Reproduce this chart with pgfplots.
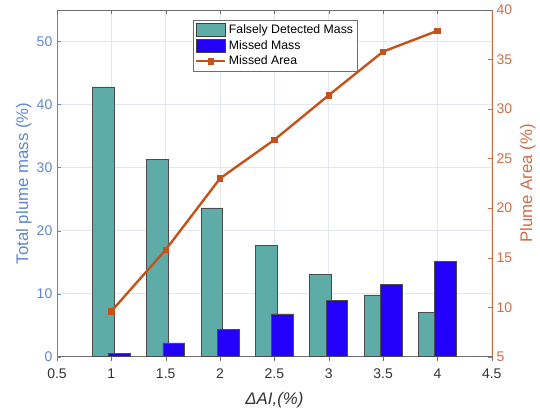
\documentclass[border=0pt]{standalone}
\usepackage{pgfplots}
\pgfplotsset{compat=1.18}
\usepackage{fontspec}
\setmainfont{Liberation Sans}
\usetikzlibrary{calc}

\definecolor{tealbar}{RGB}{94,172,168}
\definecolor{bluebar}{RGB}{35,0,250}
\definecolor{arealine}{RGB}{196,82,28}
\definecolor{leftax}{RGB}{95,135,205}
\definecolor{rightax}{RGB}{205,110,70}
\definecolor{gridc}{RGB}{226,231,240}
\definecolor{boxc}{RGB}{110,110,110}

\begin{document}
\begin{tikzpicture}
\pgfplotsset{
  every axis/.append style={
    scale only axis, width=326pt, height=260pt,
    xmin=0.5, xmax=4.5,
    xtick={0.5,1,...,4.5},
    tick align=inside,
    /pgf/number format/assume math mode=true,
    tick label style={font=\fontsize{10.5}{12}\selectfont},
    label style={font=\fontsize{12.6}{14}\selectfont},
    major tick length=3pt,
  },
}
% bars: mass percentages on the left axis
\begin{axis}[
  name=ax,
  ymin=0, ymax=55,
  ytick={0,10,...,50},
  axis x line*=bottom,
  axis y line*=left,
  x axis line style={boxc, -},
  y axis line style={leftax, -},
  y tick style={leftax},
  x tick style={boxc},
  yticklabel style={text=leftax},
  xticklabel style={text=black!80, yshift=-2.5pt},
  ylabel={Total plume mass (\%)},
  ylabel style={text=leftax, yshift=-3pt},
  xlabel={\textit{ΔAI,(\%)}},
  xlabel style={text=black!80, yshift=-3pt},
  grid=major,
  major grid style={gridc, line width=0.6pt},
  ybar, bar width=0.2,
  legend style={
    at={(0.313,0.971)}, anchor=north west,
    font=\fontsize{9.2}{11}\selectfont,
    draw=boxc, line width=0.5pt,
    inner sep=1.2pt, row sep=-0.5pt,
    cells={anchor=west},
  },
  legend image code/.code={
    \draw[#1, draw=black!75, line width=0.5pt] (0cm,-0.17cm) rectangle (0.76cm,0.17cm);
  },
]
\addplot[fill=tealbar, draw=black!70, line width=0.5pt, bar shift=-0.075]
  coordinates {(1,42.8) (1.5,31.3) (2,23.6) (2.5,17.7) (3,13.0) (3.5,9.8) (4,7.0)};
\addlegendentry{Falsely Detected Mass}
\addplot[fill=bluebar, draw=black!70, line width=0.5pt, bar shift=0.075]
  coordinates {(1,0.5) (1.5,2.2) (2,4.3) (2.5,6.8) (3,9.0) (3.5,11.5) (4,15.1)};
\addlegendentry{Missed Mass}
\addlegendimage{legend image code/.code={
  \draw[arealine, line width=1.8pt] (0cm,0cm) -- (0.76cm,0cm);
  \fill[arealine] (0.31cm,-0.07cm) rectangle (0.45cm,0.07cm);
}}
\addlegendentry{Missed Area}
\end{axis}

% line: missed area on the right axis
\begin{axis}[
  ymin=5, ymax=40,
  ytick={5,10,...,40},
  axis x line*=top,
  axis y line*=right,
  xticklabels={},
  x axis line style={boxc, -},
  x tick style={boxc},
  y axis line style={rightax, -},
  y tick style={rightax},
  yticklabel style={text=rightax},
  ylabel={Plume Area (\%)},
  ylabel style={text=rightax, yshift=1pt},
]
\addplot[arealine, line width=1.8pt, mark=square*,
  mark size=2pt, mark options={fill=arealine, draw=arealine, line width=0.5pt}]
  coordinates {(1,9.6) (1.5,15.8) (2,23.0) (2.5,26.9) (3,31.4) (3.5,35.8) (4,37.9)};
\end{axis}

\path[use as bounding box]
  ($(ax.south west)+(-42.75pt,-41.25pt)$) rectangle ($(ax.north east)+(36pt,7.5pt)$);
\end{tikzpicture}
\end{document}
